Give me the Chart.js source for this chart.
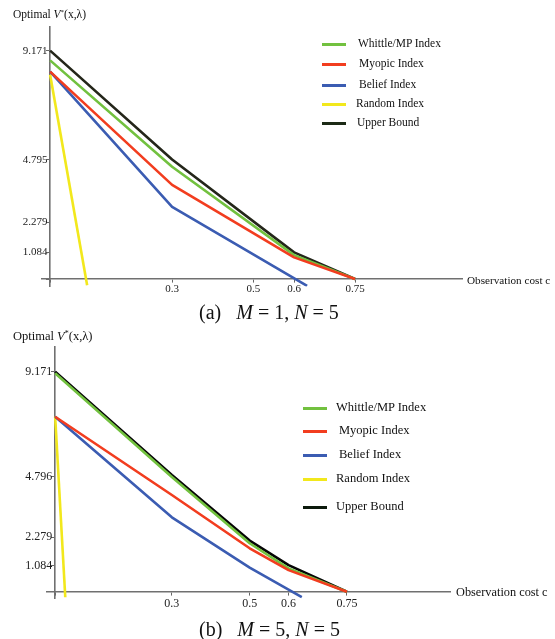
<!DOCTYPE html>
<html>
<head>
<meta charset="utf-8">
<script src="https://cdn.jsdelivr.net/npm/chart.js@4/dist/chart.umd.min.js"></script>
<style>
  html,body{margin:0;padding:0;background:#fff;}
  body{width:555px;height:639px;position:relative;overflow:hidden;font-family:"Liberation Serif","DejaVu Serif",serif;color:#111;}
  .cv{position:absolute;left:0;}
  .t{position:absolute;white-space:nowrap;line-height:1;}
  .leg{position:absolute;white-space:nowrap;line-height:1;}
  .cap{position:absolute;white-space:nowrap;font-size:20px;line-height:1;}
  .cap i{font-style:italic;}
</style>
</head>
<body>
<div class="cv" style="top:0;width:555px;height:300px;"><canvas id="cA"></canvas></div>
<div class="cv" style="top:300px;width:555px;height:339px;"><canvas id="cB"></canvas></div>

<div class="t" style="left:13px;top:9px;font-size:11.5px;">Optimal <i>V</i><sup style="font-size:7px;vertical-align:4px;line-height:0">*</sup>(x,λ)</div>
<div class="t" style="left:467px;top:275px;font-size:11.2px;">Observation cost c</div>
<div class="t" style="left:13px;top:330px;font-size:12.5px;">Optimal <i>V</i><sup style="font-size:8px;vertical-align:4px;line-height:0">*</sup>(x,λ)</div>
<div class="t" style="left:456px;top:586px;font-size:12.3px;">Observation cost c</div>

<div id="legA"></div>
<div id="legB"></div>

<div class="cap" style="left:199px;top:302px;">(a)&nbsp;&nbsp;&nbsp;<i>M</i> = 1, <i>N</i> = 5</div>
<div class="cap" style="left:199px;top:619px;">(b)&nbsp;&nbsp;&nbsp;<i>M</i> = 5, <i>N</i> = 5</div>

<script>
// ---------- data ----------
const seriesNames = ["Whittle/MP Index", "Myopic Index", "Belief Index", "Random Index", "Upper Bound"];
const xTickValues = [0, 0.3, 0.5, 0.6, 0.75];
const xTickLabels = ["", "0.3", "0.5", "0.6", "0.75"];

// (a) M = 1, N = 5
const yTickValuesA = [0, 1.084, 2.279, 4.795, 9.171];
const costA = [0, 0.3, 0.6, 0.75];
const whittleA = [8.78, 4.51, 0.96, 0];
const myopicA = [8.33, 3.78, 0.87, 0];
const upperA = [9.171, 4.80, 1.07, 0];
const beliefCostA = [0, 0.3, 0.632];
const beliefA = [8.33, 2.90, -0.27];
const randomCostA = [0, 0.091];
const randomA = [8.20, -0.25];

// (b) M = 5, N = 5
const yTickValuesB = [0, 1.084, 2.279, 4.796, 9.171];
const costB = [0, 0.3, 0.5, 0.6, 0.75];
const whittleB = [9.10, 4.78, 2.02, 0.97, 0];
const myopicB = [7.29, 4.03, 1.81, 0.90, 0];
const upperB = [9.171, 4.86, 2.13, 1.11, 0];
const beliefCostB = [0, 0.3, 0.5, 0.634];
const beliefB = [7.29, 3.10, 1.00, -0.23];
const randomCostB = [0, 0.026];
const randomB = [7.29, -0.23];

const colors = ["#72c13f", "#f23d1f", "#3b5cb2", "#f2e81c", "#1c1f12"];

function pts(xs, ys){ return xs.map((x,i)=>({x:x, y:ys[i]})); }

function makeChart(id, cfg){
  const ds = [
    {label:seriesNames[1], data:pts(cfg.cost, cfg.myopic), borderColor:colors[1], order:1},
    {label:seriesNames[0], data:pts(cfg.cost, cfg.whittle), borderColor:colors[0], order:2},
    {label:seriesNames[4], data:pts(cfg.cost, cfg.upper), borderColor:cfg.black, order:3},
    {label:seriesNames[2], data:pts(cfg.bcost, cfg.belief), borderColor:colors[2], order:4},
    {label:seriesNames[3], data:pts(cfg.rcost, cfg.random), borderColor:colors[3], order:5}
  ].map(d=>Object.assign(d,{borderWidth:2.6, pointRadius:0, tension:0, fill:false, borderJoinStyle:'round'}));
  return new Chart(document.getElementById(id), {
    type:'line',
    data:{datasets:ds},
    options:{
      responsive:true, maintainAspectRatio:false, animation:false,
      devicePixelRatio:1,
      layout:{padding:cfg.pad},
      plugins:{legend:{display:false}, tooltip:{enabled:false}},
      scales:{
        x:{type:'linear', min:cfg.xmin, max:cfg.xmax, position:{y:0},
           afterFit:s=>{s.height=0;},
           afterBuildTicks:s=>{s.ticks = xTickValues.map(v=>({value:v}));},
           grid:{display:true, drawOnChartArea:false, drawTicks:true, tickLength:3, color:'#666', lineWidth:1},
           border:{display:true, color:'#707070', width:1.6},
           ticks:{autoSkip:false, maxRotation:0, padding:cfg.xpad, color:'#222',
                  font:{family:"Liberation Serif", size:cfg.fs},
                  callback:(v)=>xTickLabels[xTickValues.indexOf(v)] ?? ''}},
        y:{type:'linear', min:cfg.ymin, max:cfg.ymax, position:{x:0},
           afterFit:s=>{s.width=0;},
           afterBuildTicks:s=>{s.ticks = cfg.yt.map(v=>({value:v}));},
           grid:{display:true, drawOnChartArea:false, drawTicks:true, tickLength:3, color:'#666', lineWidth:1},
           border:{display:true, color:'#707070', width:1.6},
           ticks:{autoSkip:false, padding:1, color:'#222',
                  font:{family:"Liberation Serif", size:cfg.fs},
                  callback:v=> v===0 ? '' : v.toFixed(3) + ' '}}
      }
    }
  });
}

makeChart('cA', {
  cost:costA, whittle:whittleA, myopic:myopicA, upper:upperA,
  bcost:beliefCostA, belief:beliefA, rcost:randomCostA, random:randomA,
  yt:yTickValuesA, black:"#24261a",
  xmin:-0.02, xmax:1.013, ymin:-0.3, ymax:10.12,
  pad:{left:42, right:93, top:27, bottom:13.5}, fs:11, xpad:0
});
makeChart('cB', {
  cost:costB, whittle:whittleB, myopic:myopicB, upper:upperB,
  bcost:beliefCostB, belief:beliefB, rcost:randomCostB, random:randomB,
  yt:yTickValuesB, black:"#050505",
  xmin:-0.021, xmax:1.015, ymin:-0.3, ymax:10.21,
  pad:{left:47, right:105, top:46.7, bottom:40.1}, fs:12, xpad:2
});

// ---------- legends (HTML text) ----------
function legend(id, lx, lw, tx, ys, fs){
  const el = document.getElementById(id);
  [0,1,2,3,4].forEach((k,i)=>{
    const c = (k===4) ? (id==='legA' ? "#1c2a16" : "#0c1a0c") : colors[k];
    const ln = document.createElement('div');
    ln.className='leg';
    ln.style.left = lx+'px'; ln.style.top = (ys[i]-1.5)+'px';
    ln.style.width = lw+'px'; ln.style.height='3px'; ln.style.background=c;
    el.appendChild(ln);
    const t = document.createElement('div');
    t.className='leg';
    t.style.left = tx[i]+'px'; t.style.top = (ys[i]-fs*0.55)+'px';
    t.style.fontSize = fs+'px';
    t.textContent = seriesNames[k];
    el.appendChild(t);
  });
}
legend('legA', 322, 24, [358,359,359,356,357], [44,64,85,104.5,123], 11.5);
legend('legB', 303, 24, [336,339,339,336,336], [408,431,455,479,507], 12.5);
</script>
</body>
</html>
